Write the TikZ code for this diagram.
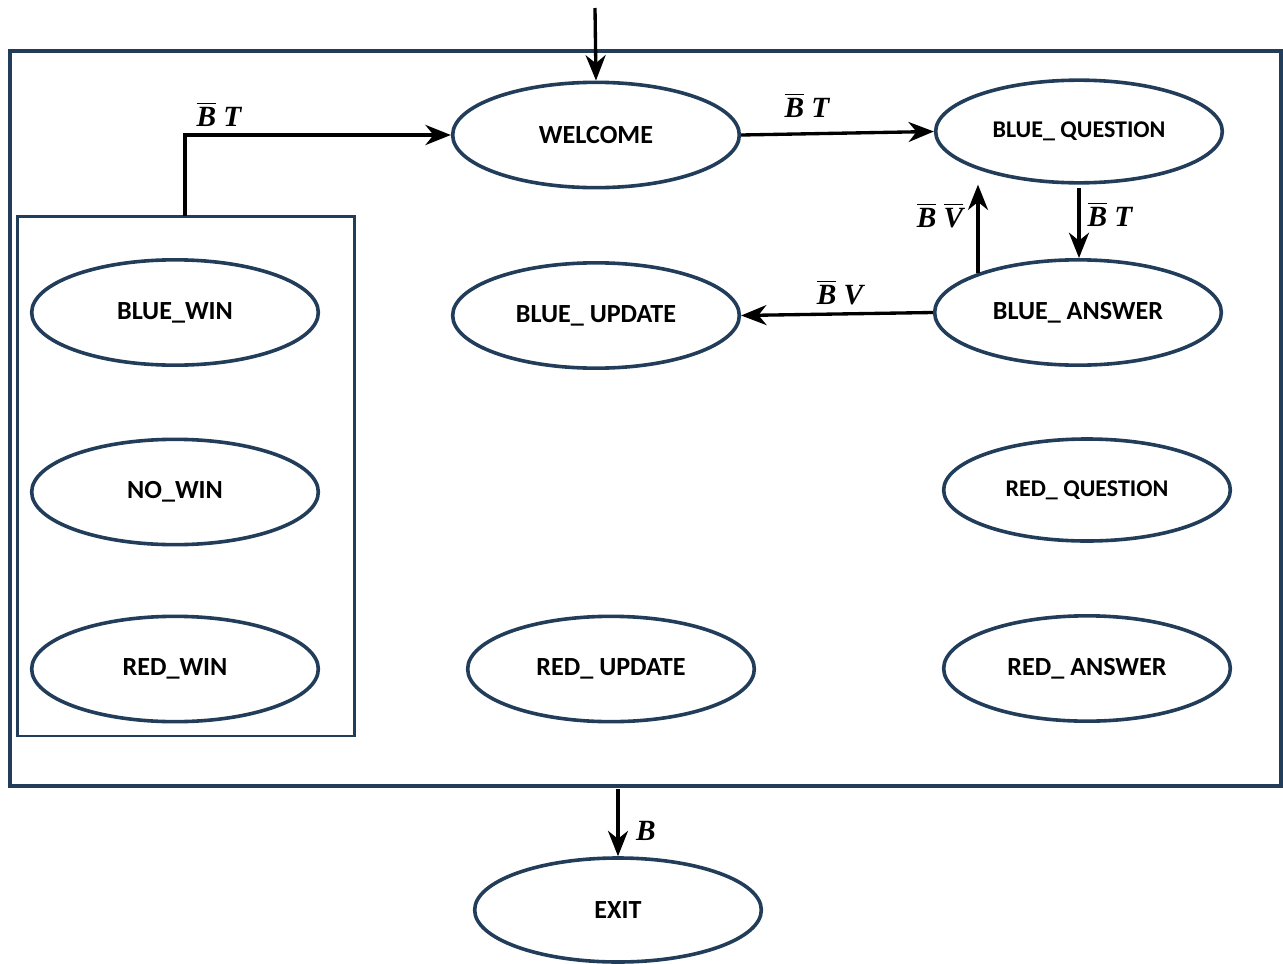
\documentclass[tikz,border=0pt]{standalone}
\usepackage{fontspec}
\usepackage{amsmath}
\setmainfont{Carlito}
\newfontfamily\lblfont{Liberation Serif}
\usetikzlibrary{shapes.geometric,arrows.meta}
\definecolor{navy}{HTML}{223D5A}
\newcommand{\lb}[1]{\hbox{\lblfont\bfseries\itshape #1}}
\newcommand{\ob}[1]{$\overline{\lb{#1}}$}
\tikzset{
  st/.style={ellipse, draw=navy, line width=2.7pt, inner sep=0pt, font=\bfseries\fontsize{19.6}{21}\selectfont, minimum width=215pt, minimum height=79pt},
  stsmall/.style={st, font=\bfseries\fontsize{18}{20}\selectfont},
  frame/.style={draw=navy, line width=3pt},
  inframe/.style={draw=navy, line width=1.6pt},
  tr/.style={draw=black, line width=2.5pt, -{Stealth[length=19pt,width=15pt,inset=6pt]}},
  lbl/.style={font=\lblfont\bfseries\itshape\fontsize{22}{24}\selectfont, inner sep=0pt}
}
\begin{document}
\begin{tikzpicture}[x=0.75pt,y=-0.75pt]
\useasboundingbox (0,0) rectangle (1283,964);
% frames
\draw[frame] (10,51) rectangle (1281,786);
\draw[inframe] (17.5,216.5) rectangle (354.5,736);
% states
\node[st] (welcome) at (596,135) {WELCOME};
\node[stsmall, minimum height=77pt] (bq) at (1079,131.5) {BLUE\_ QUESTION};
\node[st] (bwin) at (175,312.5) {BLUE\_WIN};
\node[st] (bu) at (596,315.5) {BLUE\_ UPDATE};
\node[st] (ba) at (1078,312.5) {BLUE\_ ANSWER};
\node[st] (nowin) at (175,492) {NO\_WIN};
\node[stsmall, minimum height=76.5pt] (rq) at (1087,490) {RED\_ QUESTION};
\node[st] (rwin) at (175,669) {RED\_WIN};
\node[st] (ru) at (611,669) {RED\_ UPDATE};
\node[st] (ra) at (1087,668.5) {RED\_ ANSWER};
\node[st, minimum height=78pt] (exit) at (618,910) {EXIT};
% helper coordinates
\coordinate (start) at (595,8);
\coordinate (inTop) at (185,216);
\coordinate (exitTop) at (618,789);
\coordinate (baUp) at (978,273);
\coordinate (bqDown) at (1079,188);
% transitions
\draw[tr] (start) -- (welcome.north);
\draw[tr, line width=3.7pt] (inTop) |- (welcome.west);
\draw[tr] (welcome.east) -- (bq.west);
\draw[tr] (bqDown) -- (ba.north -| bqDown);
\draw[tr] (baUp) -- (bq.south -| baUp);
\draw[tr] (ba.west) -- (bu.east);
\draw[tr] (exitTop) -- (exit.north);
% labels
\node[lbl] (l1) at (219,114) {\ob{B} T};
\node[lbl] (l2) at (807,105) {\ob{B} T};
\node[lbl] (l3) at (1110,214) {\ob{B} T};
\node[lbl] (l4) at (940,215) {\ob{B} \ob{V}};
\node[lbl] (l5) at (840,292) {\ob{B} V};
\node[lbl] (l6) at (646,831) {B};
\end{tikzpicture}
\end{document}
